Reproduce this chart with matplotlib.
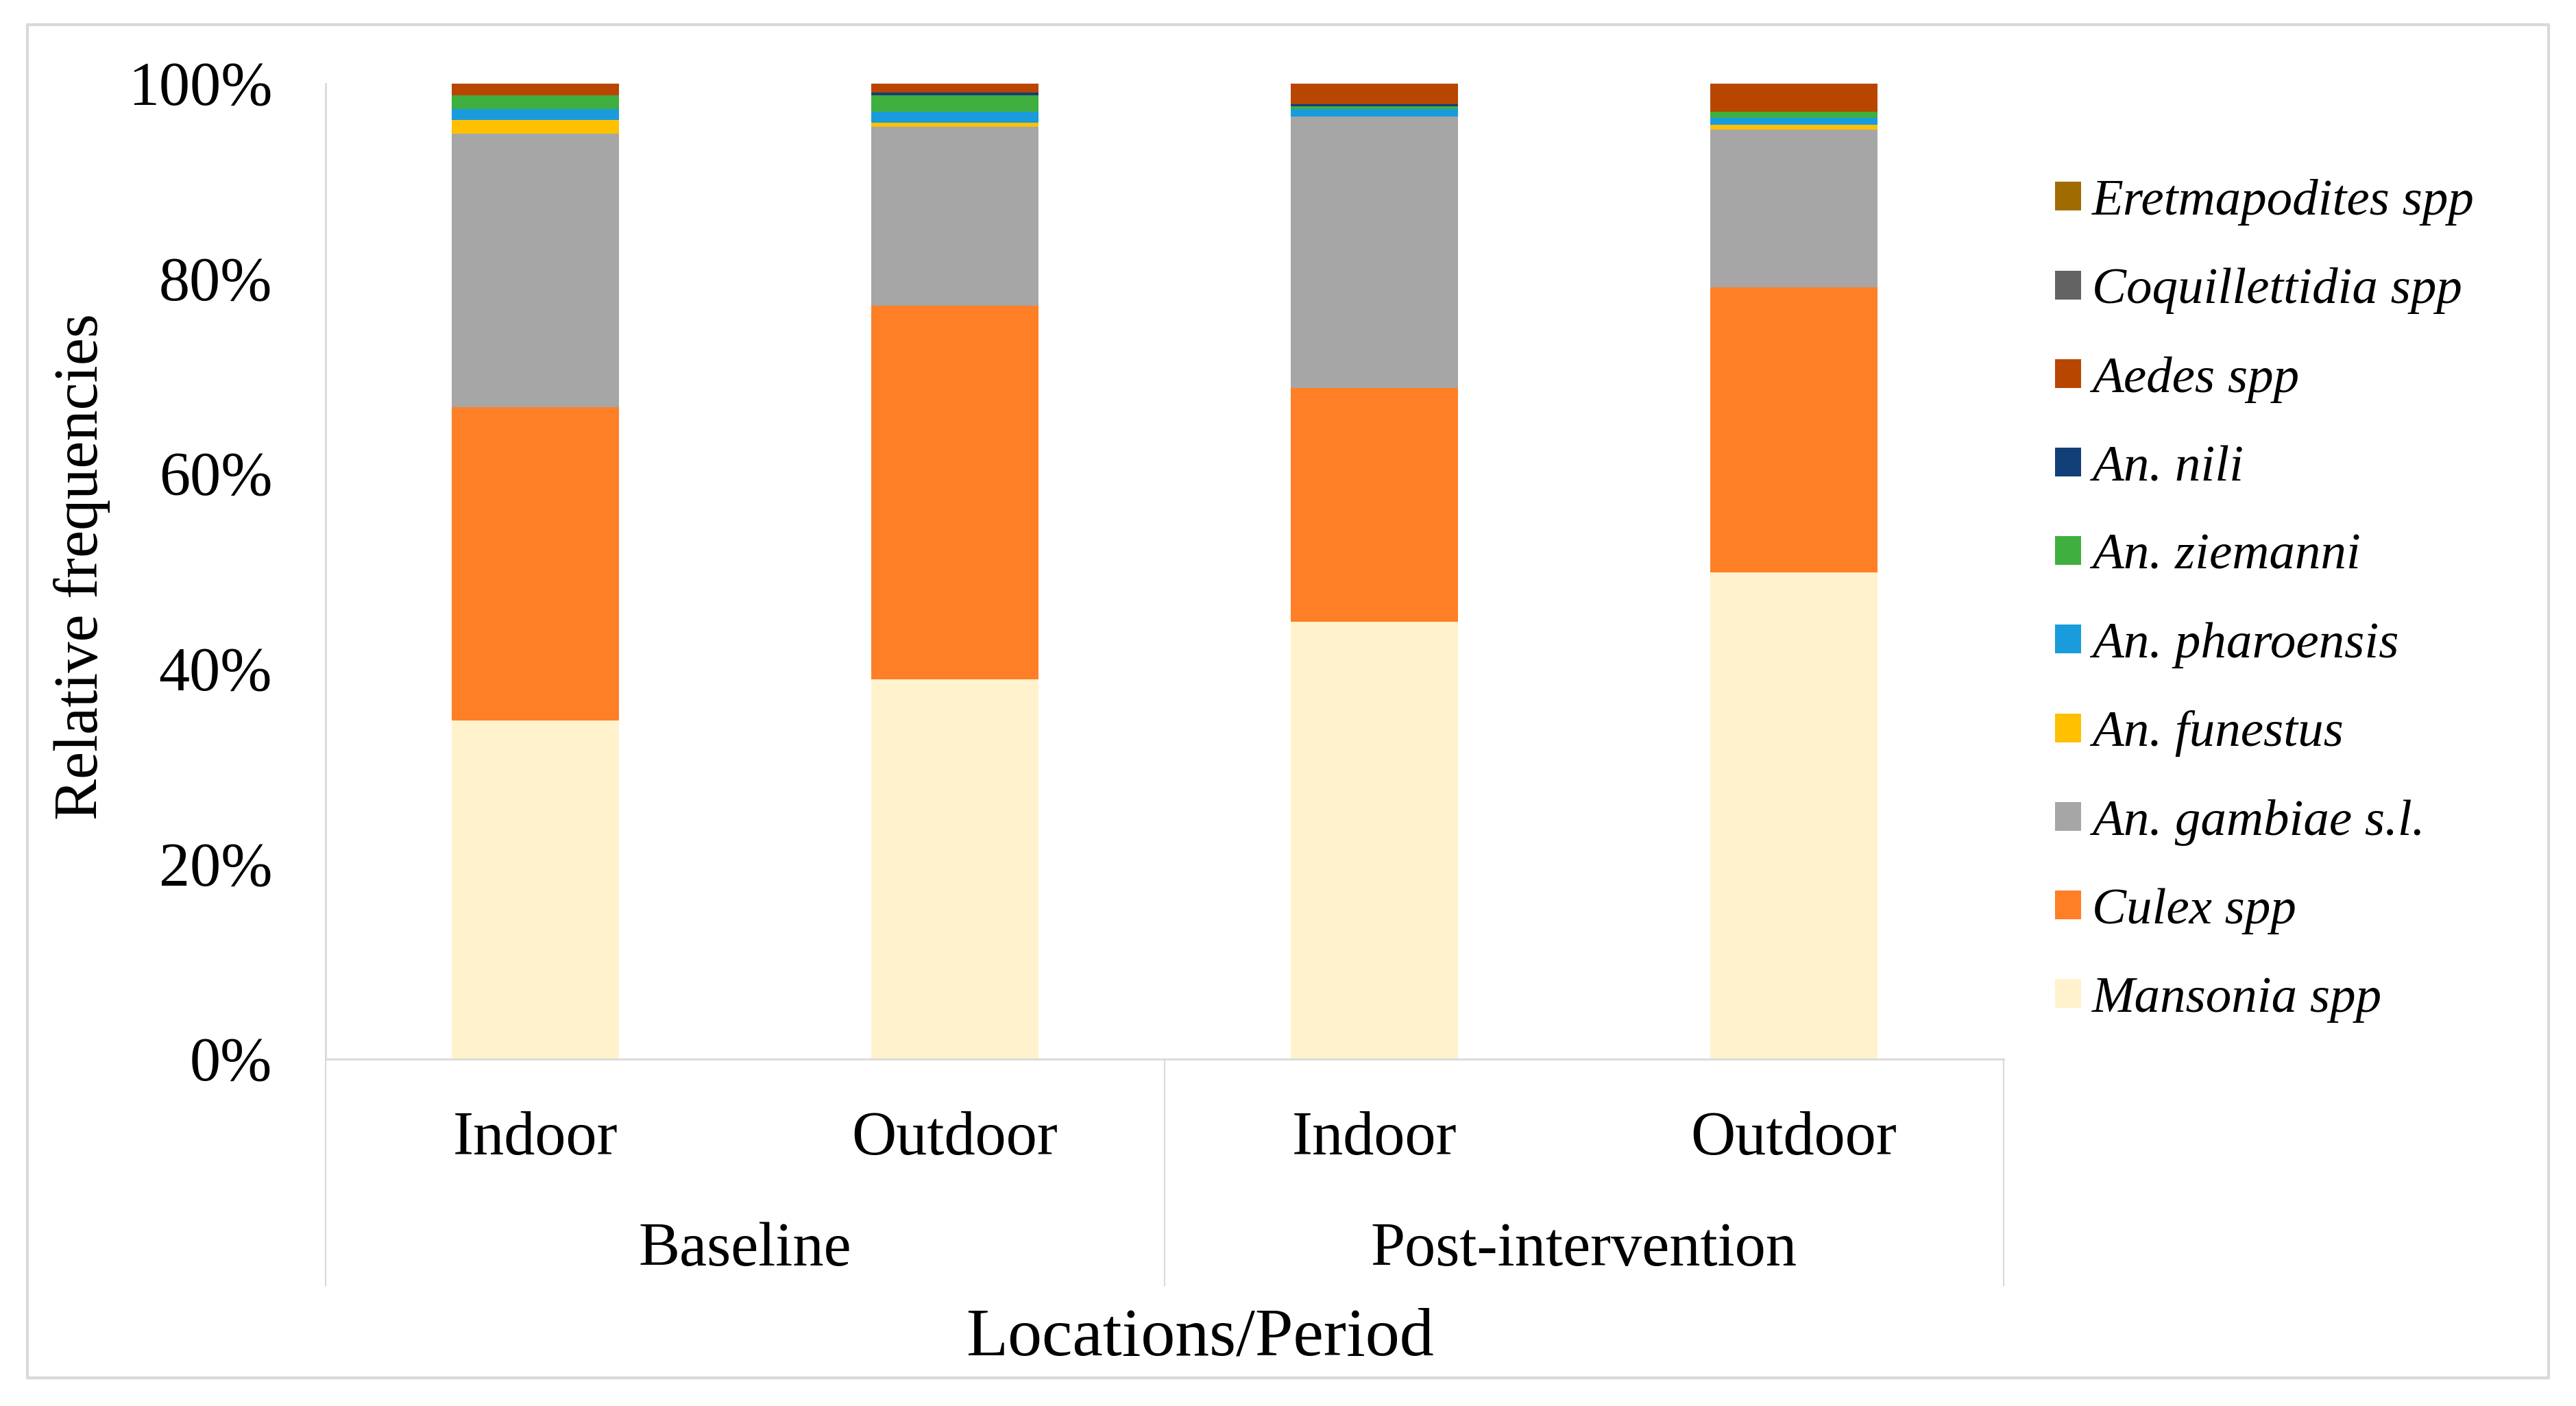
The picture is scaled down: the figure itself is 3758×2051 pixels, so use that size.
import numpy as np
import matplotlib
matplotlib.use("Agg")
import matplotlib.pyplot as plt
from matplotlib.transforms import blended_transform_factory
from matplotlib.patches import Rectangle

plt.rcParams['font.family'] = ['Liberation Serif', 'DejaVu Serif']

# data: relative frequencies (%) for each bar
locations = ['Indoor', 'Outdoor', 'Indoor', 'Outdoor']
periods = ['Baseline', 'Post-intervention']

species = ['Mansonia spp', 'Culex spp', 'An. gambiae s.l.', 'An. funestus',
           'An. pharoensis', 'An. ziemanni', 'An. nili', 'Aedes spp',
           'Coquillettidia spp', 'Eretmapodites spp']
mansonia = [34.7, 38.9, 44.8, 49.9]
culex = [32.1, 38.3, 24.0, 29.2]
gambiae = [28.1, 18.4, 27.8, 16.2]
funestus = [1.4, 0.4, 0.0, 0.5]
pharoensis = [1.1, 1.1, 0.8, 0.7]
ziemanni = [1.4, 1.7, 0.3, 0.6]
nili = [0.0, 0.3, 0.2, 0.0]
aedes = [1.2, 0.9, 2.1, 2.9]
coquillettidia = [0.0, 0.0, 0.0, 0.0]
eretmapodites = [0.0, 0.0, 0.0, 0.0]

colors = ['#FFF2CC', '#FF7F27', '#A6A6A6', '#FFC000', '#1A9BDC',
          '#3FAF3F', '#123F78', '#B84600', '#636363', '#A06C00']

series = [mansonia, culex, gambiae, funestus, pharoensis, ziemanni,
          nili, aedes, coquillettidia, eretmapodites]

W, H = 3758, 2051
fig = plt.figure(figsize=(W / 100, H / 100), dpi=100)

"""axes placed in pixel terms of the reference"""
ax = fig.add_axes([475 / W, 1 - 1545 / H, (2923 - 475) / W, (1545 - 122) / H])

x = np.arange(len(locations))
bottom = np.zeros(len(locations))
bars = []
for name, vals, col in zip(species, series, colors):
    b = ax.bar(x, vals, width=0.40, bottom=bottom, color=col,
               linewidth=0, label=name)
    bars.append(b)
    bottom += np.array(vals)

ax.set_xlim(-0.5, len(locations) - 0.5)
ax.set_ylim(0, 100)
ax.set_yticks(np.arange(0, 101, 20))
ax.set_yticklabels([f'{v}%' for v in range(0, 101, 20)], fontsize=65)
ax.tick_params(axis='y', length=0, pad=56)
ax.set_xticks([])

for s in ['top', 'right']:
    ax.spines[s].set_visible(False)
ax.spines['left'].set_color('#D9D9D9')
ax.spines['bottom'].set_color('#D9D9D9')
ax.spines['left'].set_linewidth(2)
ax.spines['bottom'].set_linewidth(2)

"""multi-level category axis"""
trans = blended_transform_factory(ax.transData, fig.transFigure)
for xi, lab in zip(x, locations):
    ax.text(xi, 1 - 1684 / H, lab, transform=trans, ha='center',
            va='baseline', fontsize=65)
for gi, per in enumerate(periods):
    ax.text(2 * gi + 0.5, 1 - 1846 / H, per, transform=trans, ha='center',
            va='baseline', fontsize=65)
for xs in [-0.5, 1.5, 3.5]:
    ax.plot([xs, xs], [1 - 1545 / H, 1 - 1875 / H], transform=trans,
            color='#D9D9D9', linewidth=1.5, clip_on=False)

fig.text(1750 / W, 1 - 1977 / H, 'Locations/Period', ha='center',
         va='baseline', fontsize=72)
fig.text(120 / W, 1 - 827 / H, 'Relative frequencies', ha='center',
         va='center', rotation=90, fontsize=65)

"""legend, top entry first"""
leg = fig.legend(bars[::-1], species[::-1], loc='upper left',
                 bbox_to_anchor=(2998 / W, 1 - 261 / H), frameon=False,
                 prop={'style': 'italic', 'size': 54},
                 handlelength=0.5, handleheight=0.48, handletextpad=0.22,
                 labelspacing=0.82, borderpad=0, borderaxespad=0)

"""outer gray frame"""
fig.patches.append(Rectangle((40 / W, 1 - 2010 / H), (3718 - 40) / W,
                             (2010 - 36) / H, transform=fig.transFigure,
                             fill=False, edgecolor='#D9D9D9', linewidth=3))

fig.savefig('out.png', dpi=100)
